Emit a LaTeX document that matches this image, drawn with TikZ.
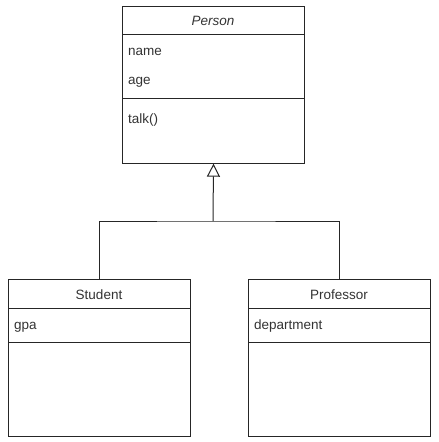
\documentclass[tikz,border=0pt]{standalone}
\usepackage{fontspec}
\setmainfont{Liberation Sans}
\usetikzlibrary{arrows.meta}
\begin{document}
\begin{tikzpicture}[x=1pt,y=-1pt]
    \tikzstyle{cls}=[draw=black!85, line width=1pt, anchor=north west,
                            minimum width=182pt, minimum height=157pt, inner sep=0pt]
    \tikzstyle{title}=[inner sep=0pt, anchor=base, text=black!80, font=\fontsize{13.5}{16}\selectfont]
    \tikzstyle{member}=[title, anchor=base west]
    \tikzstyle{line}=[draw=black!85, line width=1pt]
    \useasboundingbox (0,0) rectangle (439,442);

    % classes
    \node[cls] (person) at (122,5.7) {};
    \node[cls] (student) at (8,279.3) {};
    \node[cls] (prof) at (248,279.3) {};

    % compartments
    \draw[line] ([yshift=-28.6pt]person.north west) -- ([yshift=-28.6pt]person.north east);
    \draw[line] ([yshift=-93pt]person.north west) -- ([yshift=-93pt]person.north east);
    \draw[line] ([yshift=-29.4pt]student.north west) -- ([yshift=-29.4pt]student.north east);
    \draw[line] ([yshift=-63.4pt]student.north west) -- ([yshift=-63.4pt]student.north east);
    \draw[line] ([yshift=-29.4pt]prof.north west) -- ([yshift=-29.4pt]prof.north east);
    \draw[line] ([yshift=-63.4pt]prof.north west) -- ([yshift=-63.4pt]prof.north east);

    % texts
    \node[title, font=\fontsize{13.5}{16}\selectfont\itshape] (personname) at (213,25.7) {Person};
    \node[member] (name) at (128,55) {name};
    \node[member] (age) at (128,84) {age};
    \node[member] (talk) at (128,123.5) {talk()};
    \node[title] (studentname) at (99,299.3) {Student};
    \node[member] (gpa) at (14,329) {gpa};
    \node[title] (profname) at (339,299.3) {Professor};
    \node[member] (dept) at (254,329) {department};

    % generalisation
    \coordinate (fork) at (213,221);
    \draw[line, -{Triangle[open, length=13pt, width=13pt]}] (fork) -- (person.south);
    \draw[line] (student.north) |- (fork) -| (prof.north);
\end{tikzpicture}
\end{document}
